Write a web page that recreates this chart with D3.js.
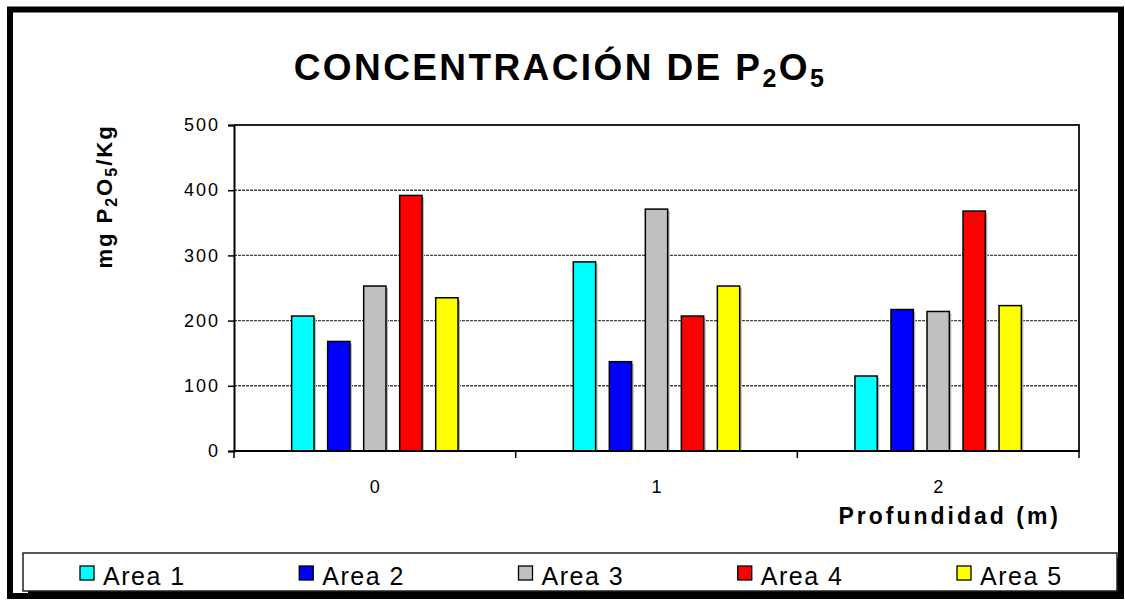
<!DOCTYPE html>
<html lang="es">
<head>
<meta charset="utf-8">
<title>Concentración de P2O5</title>
<script src="https://cdn.jsdelivr.net/npm/d3@7"></script>
<style>
  body { margin: 0; background: #fff; }
  text { font-family: Arial, "Liberation Sans", sans-serif; fill: #000; }
</style>
</head>
<body>
<script>
// datos
var categories = ["0", "1", "2"];
var seriesNames = ["Area 1", "Area 2", "Area 3", "Area 4", "Area 5"];
var area1 = [207, 290, 115];
var area2 = [168, 137, 217];
var area3 = [253, 371, 214];
var area4 = [392, 207, 368];
var area5 = [235, 253, 223];
var yTicks = [0, 100, 200, 300, 400, 500];
var colors = ["#00ffff", "#0000ff", "#c0c0c0", "#ff0000", "#ffff00"];

var values = [area1, area2, area3, area4, area5];
var W = 1125, H = 602;
var plot = {left: 234, right: 1079, top: 125, bottom: 451};

var svg = d3.select("body").append("svg")
  .attr("width", W).attr("height", H);

var x0 = d3.scaleBand().domain(categories).range([plot.left, plot.right]);
var x1 = d3.scaleBand().domain(seriesNames).range([0, x0.bandwidth()])
  .paddingInner(0.38).paddingOuter(1.6);
var y = d3.scaleLinear().domain([0, 500]).range([plot.bottom, plot.top]);

// titulo
var title = svg.append("text")
  .attr("x", 560).attr("y", 80)
  .attr("text-anchor", "middle")
  .style("font-size", "37px").style("font-weight", "bold")
  .style("letter-spacing", "2.4px");
title.append("tspan").text("CONCENTRACIÓN DE P");
title.append("tspan").attr("dy", 7).style("font-size", "25px").text("2");
title.append("tspan").attr("dy", -7).text("O");
title.append("tspan").attr("dy", 7).style("font-size", "25px").text("5");

// lineas de division
svg.append("g")
  .selectAll("line")
  .data(yTicks.filter(function(d) { return d > 0 && d < 500; }))
  .enter().append("line")
  .attr("x1", plot.left).attr("x2", plot.right)
  .attr("y1", function(d) { return y(d); })
  .attr("y2", function(d) { return y(d); })
  .attr("stroke", "#444").attr("stroke-width", 1.4)
  .attr("stroke-dasharray", "3,1");

// borde superior y derecho del area de trazado
svg.append("path")
  .attr("d", "M" + plot.left + "," + y(500) + "H" + plot.right + "V" + plot.bottom)
  .attr("fill", "none").attr("stroke", "#222").attr("stroke-width", 2);

// barras
var groups = svg.append("g").selectAll("g")
  .data(categories)
  .enter().append("g")
  .attr("transform", function(d) { return "translate(" + x0(d) + ",0)"; });

function rows(c, i) {
  return seriesNames.map(function(s, j) { return {s: s, v: values[j][i], j: j}; });
}

groups.selectAll("rect.shadow")
  .data(rows)
  .enter().append("rect")
  .attr("class", "shadow")
  .attr("x", function(d) { return x1(d.s) + 2; })
  .attr("y", function(d) { return y(d.v) + 2; })
  .attr("width", x1.bandwidth())
  .attr("height", function(d) { return y(0) - y(d.v) - 2; })
  .attr("fill", "#bbb");

groups.selectAll("rect.bar")
  .data(rows)
  .enter().append("rect")
  .attr("class", "bar")
  .attr("x", function(d) { return x1(d.s); })
  .attr("y", function(d) { return y(d.v); })
  .attr("width", x1.bandwidth())
  .attr("height", function(d) { return y(0) - y(d.v); })
  .attr("fill", function(d) { return colors[d.j]; })
  .attr("stroke", "#000").attr("stroke-width", 1.5);

// eje y
var yAxis = svg.append("g")
  .attr("transform", "translate(" + plot.left + ",0)")
  .call(d3.axisLeft(y).tickValues(yTicks).tickSize(6).tickPadding(8));
yAxis.select(".domain").attr("stroke", "#000").attr("stroke-width", 2);
yAxis.selectAll(".tick line").attr("stroke", "#000").attr("stroke-width", 1.5);
yAxis.selectAll(".tick text")
  .style("font-size", "18px").style("letter-spacing", "2px")
  .style("font-family", "Arial, 'Liberation Sans', sans-serif");

// eje x: etiquetas en el centro, marcas en los limites
var xAxis = svg.append("g")
  .attr("transform", "translate(0," + plot.bottom + ")")
  .call(d3.axisBottom(x0).tickSize(0).tickPadding(29));
xAxis.select(".domain").remove();
xAxis.selectAll(".tick text")
  .style("font-size", "18px")
  .style("font-family", "Arial, 'Liberation Sans', sans-serif");

var bounds = categories.map(function(c) { return x0(c); }).concat([plot.right]);
svg.append("g").selectAll("line")
  .data(bounds)
  .enter().append("line")
  .attr("x1", function(d) { return d; }).attr("x2", function(d) { return d; })
  .attr("y1", plot.bottom).attr("y2", plot.bottom + 7)
  .attr("stroke", "#000").attr("stroke-width", 1.5);
svg.append("line")
  .attr("x1", plot.left - 1).attr("x2", plot.right + 1)
  .attr("y1", plot.bottom).attr("y2", plot.bottom)
  .attr("stroke", "#000").attr("stroke-width", 2);

// titulos de ejes
var yLabel = svg.append("text")
  .attr("transform", "translate(112," + ((plot.top + 268) / 2) + ") rotate(-90)")
  .attr("text-anchor", "middle")
  .style("font-size", "22px").style("font-weight", "bold")
  .style("letter-spacing", "2px");
yLabel.append("tspan").text("mg P");
yLabel.append("tspan").attr("dy", 5).style("font-size", "16px").text("2");
yLabel.append("tspan").attr("dy", -5).text("O");
yLabel.append("tspan").attr("dy", 5).style("font-size", "16px").text("5");
yLabel.append("tspan").attr("dy", -5).text("/Kg");

svg.append("text")
  .attr("x", 1061).attr("y", 524)
  .attr("text-anchor", "end")
  .style("font-size", "23px").style("font-weight", "bold")
  .style("letter-spacing", "3px")
  .text("Profundidad (m)");

// leyenda
var legend = {x: 23, y: 553, w: 1094, h: 38};
svg.append("rect")
  .attr("x", legend.x + 5).attr("y", legend.y + 5)
  .attr("width", legend.w).attr("height", legend.h)
  .attr("fill", "#000");
svg.append("rect")
  .attr("x", legend.x).attr("y", legend.y)
  .attr("width", legend.w).attr("height", legend.h)
  .attr("fill", "#fff").attr("stroke", "#222").attr("stroke-width", 1.5);

var lx = d3.scalePoint().domain(seriesNames).range([80, 957]);
var items = svg.append("g").selectAll("g")
  .data(seriesNames)
  .enter().append("g")
  .attr("transform", function(d) { return "translate(" + lx(d) + "," + (legend.y + 13) + ")"; });
items.append("rect")
  .attr("width", 14).attr("height", 14)
  .attr("fill", function(d, i) { return colors[i]; })
  .attr("stroke", "#000").attr("stroke-width", 1.3);
items.append("text")
  .attr("x", 23).attr("y", 19)
  .style("font-size", "25px").style("letter-spacing", "1.5px")
  .text(function(d) { return d; });

// marco exterior
svg.append("rect")
  .attr("x", 10).attr("y", 9.5)
  .attr("width", 1111).attr("height", 586.5)
  .attr("fill", "none").attr("stroke", "#000").attr("stroke-width", 6);
</script>
</body>
</html>
